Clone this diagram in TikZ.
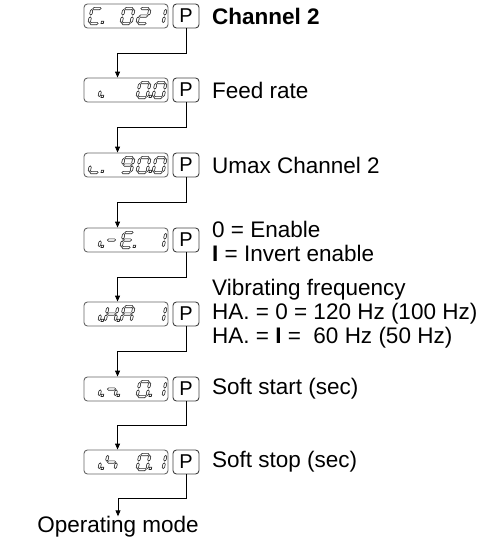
\documentclass[tikz,border=0pt]{standalone}
\usepackage{fontspec}
\setmainfont{Liberation Sans}
\usetikzlibrary{arrows.meta,calc}
\tikzset{
 segline/.style={draw=black!85, line width=0.6pt, line join=miter},
 dispbox/.style={draw=black!60, line width=0.9pt, rounded corners=3.5pt, minimum width=84pt, minimum height=24pt, inner sep=0pt},
 pbox/.style={draw=black!75, line width=0.9pt, rounded corners=3.5pt, minimum width=26pt, minimum height=24pt, inner sep=0pt, font=\fontsize{20}{20}\selectfont},
 lbl/.style={anchor=west, inner sep=0pt, align=left, font=\fontsize{22.5}{24}\selectfont},
 conn/.style={draw=black, line width=0.9pt, -{Triangle[length=6pt,width=5pt]}},
}
\newcommand\hsg[3]{\draw[segline] (#1,#3)--(#1+1.2,#3-1.2)--(#2-1.2,#3-1.2)--(#2,#3)--(#2-1.2,#3+1.2)--(#1+1.2,#3+1.2)--cycle;}
\newcommand\vsg[3]{\draw[segline] (#1,#2)--(#1+1.2,#2+1.2)--(#1+1.2,#3-1.2)--(#1,#3)--(#1-1.2,#3-1.2)--(#1-1.2,#2+1.2)--cycle;}
\newcommand\segXa{\hsg{0.9}{9.1}{-15}}
\newcommand\segXb{\vsg{10}{-14.1}{-8.4}}
\newcommand\segXc{\vsg{10}{-6.6}{-0.9}}
\newcommand\segXd{\hsg{0.9}{9.1}{0}}
\newcommand\segXe{\vsg{0}{-6.6}{-0.9}}
\newcommand\segXf{\vsg{0}{-14.1}{-8.4}}
\newcommand\segXg{\hsg{0.9}{9.1}{-7.5}}
\newcommand\segXp{\draw[segline] (12,0) rectangle (14.3,-2.3);}
\newcommand\chr[3]{\begin{scope}[shift={(#1,#2)},xslant=0.2]\foreach \s in {#3}{\csname segX\s\endcsname}\end{scope}}
\begin{document}
\begin{tikzpicture}[x=1pt,y=-1pt]
\useasboundingbox (0,0) rectangle (492,539);
% row 1
\node[dispbox] (d1) at (126,16) {};
\node[pbox] (p1) at (186,16) {P};
\node[lbl,font=\fontsize{22.5}{24}\selectfont\bfseries] (t1) at (212,16) {Channel 2};
\chr{89}{23.5}{a,f,e,d,p}\chr{121}{23.5}{a,b,c,d,e,f}\chr{137}{23.5}{a,b,g,e,d}\chr{153}{23.5}{b,c}
% row 2
\node[dispbox] (d2) at (126,90) {};
\node[pbox] (p2) at (186,90) {P};
\node[lbl] (t2) at (212,90) {Feed rate};
\chr{89}{97.5}{c,p}\chr{137}{97.5}{a,b,c,d,e,f,p}\chr{153}{97.5}{a,b,c,d,e,f}
% row 3
\node[dispbox] (d3) at (126,165) {};
\node[pbox] (p3) at (186,165) {P};
\node[lbl] (t3) at (212,165) {Umax Channel 2};
\chr{89}{172.5}{e,d,p}\chr{121}{172.5}{a,b,c,d,f,g}\chr{137}{172.5}{a,b,c,d,e,f,p}\chr{153}{172.5}{a,b,c,d,e,f}
% row 4
\node[dispbox] (d4) at (126,240) {};
\node[pbox] (p4) at (186,240) {P};
\node[lbl] (t4) at (212,241) {0 = Enable\\\textbf{I} = Invert enable};
\chr{89}{247.5}{c,p}\chr{105}{247.5}{g}\chr{121}{247.5}{a,d,e,f,g,p}\chr{153}{247.5}{b,c}
% row 5
\node[dispbox] (d5) at (126,314) {};
\node[pbox] (p5) at (186,314) {P};
\node[lbl] (t5) at (212,314) {Vibrating frequency\\HA. = 0 = 120 Hz (100 Hz)\\HA. = \textbf{I} =\ \ 60 Hz (50 Hz)};
\chr{89}{321.5}{c,p}\chr{105}{321.5}{b,c,e,f,g,p}\chr{121}{321.5}{a,b,c,e,f,g}\chr{153}{321.5}{b,c}
% row 6
\node[dispbox] (d6) at (126,389) {};
\node[pbox] (p6) at (186,389) {P};
\node[lbl] (t6) at (212,389) {Soft start (sec)};
\chr{89}{396.5}{c,p}\chr{105}{396.5}{g,c,p}\chr{137}{396.5}{a,b,c,d,e,f,p}\chr{153}{396.5}{b,c}
% row 7
\node[dispbox] (d7) at (126,462) {};
\node[pbox] (p7) at (186,462) {P};
\node[lbl] (t7) at (212,462) {Soft stop (sec)};
\chr{89}{469.5}{c,p}\chr{105}{469.5}{f,g,c}\chr{137}{469.5}{a,b,c,d,e,f,p}\chr{153}{469.5}{b,c}
% end
\node[inner sep=0pt,font=\fontsize{22.5}{24}\selectfont] (om) at (118,527) {Operating mode};
% connectors
\draw[conn] (p1.south) -- ++(0,25) -| ([xshift=34pt]d2.north west);
\draw[conn] (p2.south) -- ++(0,25) -| ([xshift=34pt]d3.north west);
\draw[conn] (p3.south) -- ++(0,25) -| ([xshift=34pt]d4.north west);
\draw[conn] (p4.south) -- ++(0,25) -| ([xshift=34pt]d5.north west);
\draw[conn] (p5.south) -- ++(0,25) -| ([xshift=34pt]d6.north west);
\draw[conn] (p6.south) -- ++(0,24) -| ([xshift=34pt]d7.north west);
\draw[conn] (p7.south) -- ++(0,24) -| (om.north);
\end{tikzpicture}
\end{document}
